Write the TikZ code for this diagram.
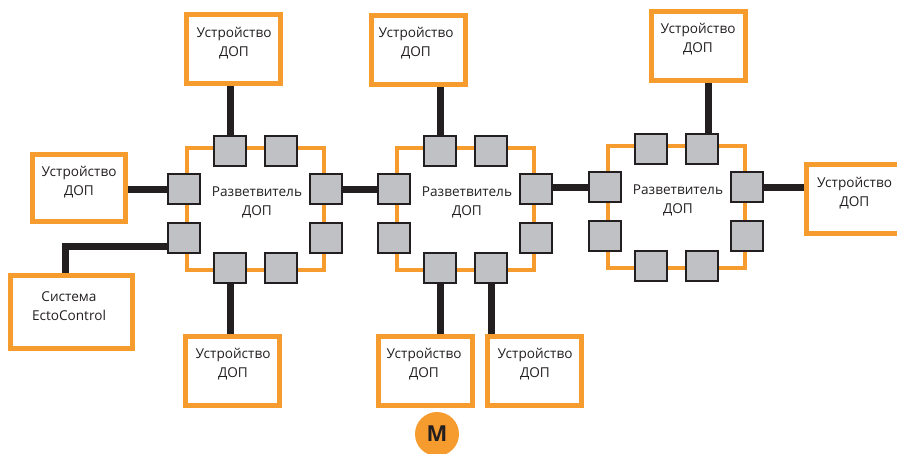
\documentclass[tikz,border=0pt]{standalone}
\usepackage{fontspec}
\setmainfont{Open Sans}
\usetikzlibrary{backgrounds}
\definecolor{orng}{RGB}{246,155,46}
\definecolor{ink}{RGB}{35,31,32}
\definecolor{portgray}{RGB}{192,193,196}
\begin{document}
\begin{tikzpicture}[x=1pt,y=-1pt,
  splitbox/.style={draw=orng, line width=4pt, minimum width=137pt, minimum height=122pt, inner sep=0pt},
  port/.style={draw=ink, fill=portgray, line width=2pt, minimum width=32pt, minimum height=30pt, inner sep=0pt},
  dev/.style={draw=orng, line width=5pt, fill=white, minimum width=94pt, minimum height=69pt, inner sep=0pt},
  conn/.style={draw=ink, line width=7pt},
  txt/.style={font=\fontsize{13.6}{19}\selectfont, align=center, text=ink, inner sep=0pt},
  mark circle/.style={circle, fill=orng, minimum size=44pt, inner sep=0pt, text=ink, font=\fontsize{22}{22}\selectfont\bfseries}
]
\useasboundingbox (0,0) rectangle (897,453);

% devices
\node[dev] (dtl) at (233,49) {};
\node[dev] (dtm) at (418.5,49.5) {};
\node[dev] (dtr) at (698.5,45.5) {};
\node[dev, minimum width=93pt, minimum height=67pt] (dl) at (79,188) {};
\node[dev, minimum width=122pt, minimum height=73pt] (sys) at (71.5,312) {};
\node[dev] (dbl) at (232.5,370.5) {};
\node[dev] (dbm1) at (425,371) {};
\node[dev] (dbm2) at (534,371) {};
\node[dev] (dr) at (853.5,199) {};

\node[txt] (tdtl) at (234,43.5) {Устройство\\ДОП};
\node[txt] (tdtm) at (416,43.5) {Устройство\\ДОП};
\node[txt] (tdtr) at (698,39.5) {Устройство\\ДОП};
\node[txt] (tdl) at (79,182.5) {Устройство\\ДОП};
\node[txt] (tsys) at (69,306.5) {Система\\EctoControl};
\node[txt] (tdbl) at (233,364.5) {Устройство\\ДОП};
\node[txt] (tdbm1) at (424,364.5) {Устройство\\ДОП};
\node[txt] (tdbm2) at (535,364.5) {Устройство\\ДОП};
\node[txt] (tdr) at (854.5,193.5) {Устройство\\ДОП};

% splitters
\foreach \s/\cx/\cy in {1/255/209, 2/465/209, 3/676/207} {
  \node[splitbox] (s\s) at (\cx,\cy) {};
  \node[txt] (s\s-txt) at (\cx+2,\cy-7) {Разветвитель\\ДОП};
  \node[port] (s\s-t1) at (\cx-25,\cy-58) {};
  \node[port] (s\s-t2) at (\cx+26,\cy-58) {};
  \node[port] (s\s-b1) at (\cx-25,\cy+59) {};
  \node[port] (s\s-b2) at (\cx+26,\cy+59) {};
  \node[port] (s\s-l1) at (\cx-71,\cy-20) {};
  \node[port] (s\s-l2) at (\cx-71,\cy+29) {};
  \node[port] (s\s-r1) at (\cx+71,\cy-20) {};
  \node[port] (s\s-r2) at (\cx+71,\cy+29) {};
}

\node[mark circle] (m) at (437,434) {M};

% connectors
\begin{pgfonlayer}{background}
  \draw[conn] (s1-t1.north) -- (s1-t1.north |- dtl.south);
  \draw[conn] (s1-l1.west) -- (s1-l1.west -| dl.east);
  \draw[conn] ([yshift=-8pt]s1-l2.west) -| ([xshift=-6.5pt]sys.north);
  \draw[conn] (s1-b1.south) -- (s1-b1.south |- dbl.north);
  \draw[conn] (s1-r1.east) -- (s2-l1.west);
  \draw[conn] (s2-t1.north) -- (s2-t1.north |- dtm.south);
  \draw[conn] (s2-b1.south) -- (s2-b1.south |- dbm1.north);
  \draw[conn] (s2-b2.south) -- (s2-b2.south |- dbm2.north);
  \draw[conn] (s3-l1.west -| s2-r1.east) -- (s3-l1.west);
  \draw[conn] ([xshift=6pt]s3-t2.north) -- ([xshift=6pt]s3-t2.north |- dtr.south);
  \draw[conn] (s3-r1.east) -- (s3-r1.east -| dr.west);
\end{pgfonlayer}
\end{tikzpicture}
\end{document}
